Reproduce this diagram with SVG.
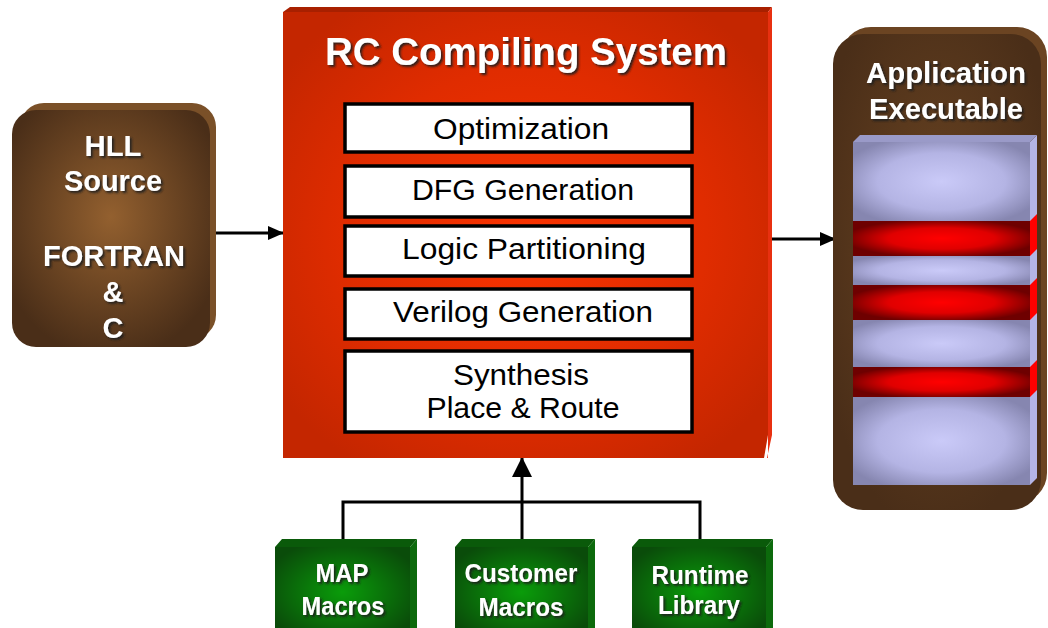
<svg xmlns="http://www.w3.org/2000/svg" width="1048" height="628" viewBox="0 0 1048 628">
<defs>
<style>
.wt{font-family:"Liberation Sans",Arial,sans-serif;font-weight:bold;fill:#ffffff;text-anchor:middle;filter:url(#sh)}
.bt{font-family:"Liberation Sans",Arial,sans-serif;fill:#000000;text-anchor:middle;font-size:29px}
.step{fill:#ffffff;stroke:#000000;stroke-width:3.5}
.conn{fill:none;stroke:#000000;stroke-width:3}
</style>
<filter id="sh" x="-10%" y="-20%" width="130%" height="150%">
<feDropShadow dx="2" dy="2" stdDeviation="0.8" flood-color="#1a1a1a" flood-opacity="0.9"/>
</filter>
<radialGradient id="brown" cx="0.5" cy="0.45" r="0.6">
<stop offset="0" stop-color="#93602f"/>
<stop offset="1" stop-color="#4a2e18"/>
</radialGradient>
<radialGradient id="brown2" cx="0.5" cy="0.45" r="0.6">
<stop offset="0" stop-color="#6a4422"/>
<stop offset="1" stop-color="#4a2e18"/>
</radialGradient>
<radialGradient id="red" cx="0.5" cy="0.5" r="0.62">
<stop offset="0" stop-color="#fa3300"/>
<stop offset="0.6" stop-color="#e02c00"/>
<stop offset="1" stop-color="#c42600"/>
</radialGradient>
<radialGradient id="lav" cx="0.5" cy="0.5" r="0.6">
<stop offset="0" stop-color="#cacaf8"/>
<stop offset="0.6" stop-color="#b4b4e4"/>
<stop offset="1" stop-color="#8686b0"/>
</radialGradient>
<radialGradient id="redband" cx="0.5" cy="0.5" r="0.55">
<stop offset="0" stop-color="#ff0000"/>
<stop offset="0.55" stop-color="#e00000"/>
<stop offset="1" stop-color="#6e0000"/>
</radialGradient>
<radialGradient id="green" cx="0.5" cy="0.5" r="0.6">
<stop offset="0" stop-color="#0a9c0a"/>
<stop offset="1" stop-color="#0a4c0a"/>
</radialGradient>
<marker id="ah" viewBox="0 0 16 14" refX="15" refY="7" markerWidth="16" markerHeight="14" markerUnits="userSpaceOnUse" orient="auto">
<path d="M0,0 L16,7 L0,14 Z" fill="#000000"/>
</marker>
<marker id="ah2" viewBox="0 0 20 20" refX="19" refY="10" markerWidth="20" markerHeight="20" markerUnits="userSpaceOnUse" orient="auto">
<path d="M0,0 L20,10 L0,20 Z" fill="#000000"/>
</marker>
</defs>
<rect width="1048" height="628" fill="#ffffff"/>

<g id="connectors">
<line class="conn" x1="210" y1="233" x2="283" y2="233" marker-end="url(#ah)"/>
<line class="conn" x1="766" y1="239" x2="835" y2="239" marker-end="url(#ah)"/>
<polyline class="conn" points="343,547 343,502 700,502 700,547"/>
<line class="conn" x1="522" y1="547" x2="522" y2="458" stroke-width="4" marker-end="url(#ah2)"/>
</g>

<g id="hll-source">
<rect x="20" y="103" width="196" height="236" rx="24" fill="#7a5028"/>
<rect x="12" y="110" width="198" height="237" rx="24" fill="url(#brown)"/>
<text class="wt" x="113" y="156" font-size="29" textLength="57" lengthAdjust="spacingAndGlyphs">HLL</text>
<text class="wt" x="113" y="191" font-size="29" textLength="98" lengthAdjust="spacingAndGlyphs">Source</text>
<text class="wt" x="114" y="266" font-size="29" textLength="142" lengthAdjust="spacingAndGlyphs">FORTRAN</text>
<text class="wt" x="113" y="302" font-size="29">&amp;</text>
<text class="wt" x="113" y="338" font-size="29">C</text>
</g>

<g id="rc-compiling-system">
<polygon points="283,12 290,7 772,7 768,12" fill="#a82000"/>
<polygon points="768,12 772,7 772,435 767,458 768,458" fill="#e83010"/>
<polygon points="283,12 768,12 768,435 764,458 283,458" fill="url(#red)"/>
<text class="wt" x="526" y="65" font-size="38" textLength="402" lengthAdjust="spacingAndGlyphs">RC Compiling System</text>
</g>

<g id="optimization">
<rect class="step" x="345" y="104" width="347" height="48"/>
<text class="bt" x="521" y="139" textLength="176" lengthAdjust="spacingAndGlyphs">Optimization</text>
</g>
<g id="dfg-generation">
<rect class="step" x="345" y="166" width="347" height="51"/>
<text class="bt" x="523" y="200" textLength="222" lengthAdjust="spacingAndGlyphs">DFG Generation</text>
</g>
<g id="logic-partitioning">
<rect class="step" x="345" y="226" width="347" height="50"/>
<text class="bt" x="524" y="259" textLength="244" lengthAdjust="spacingAndGlyphs">Logic Partitioning</text>
</g>
<g id="verilog-generation">
<rect class="step" x="345" y="289" width="347" height="50"/>
<text class="bt" x="523" y="322" textLength="260" lengthAdjust="spacingAndGlyphs">Verilog Generation</text>
</g>
<g id="synthesis">
<rect class="step" x="345" y="351" width="347" height="81"/>
<text class="bt" x="521" y="385" textLength="136" lengthAdjust="spacingAndGlyphs">Synthesis</text>
<text class="bt" x="523" y="418" textLength="193" lengthAdjust="spacingAndGlyphs">Place &amp; Route</text>
</g>

<g id="application-executable">
<rect x="841" y="27" width="206" height="476" rx="30" fill="#6b4422"/>
<rect x="833" y="34" width="208" height="476" rx="30" fill="url(#brown2)"/>
<text class="wt" x="946" y="83" font-size="29" textLength="160" lengthAdjust="spacingAndGlyphs">Application</text>
<text class="wt" x="946" y="119" font-size="29" textLength="154" lengthAdjust="spacingAndGlyphs">Executable</text>
<polygon points="1030,142 1037,135 1037,478 1030,485" fill="#b4b4e6"/>
<polygon points="853,142 860,135 1037,135 1030,142" fill="#9a9ac8"/>
<rect x="853" y="142" width="177" height="79" fill="url(#lav)"/>
<polygon points="1030,221 1037,214 1037,249 1030,256" fill="#ff0000"/>
<rect x="853" y="221" width="177" height="35" fill="url(#redband)"/>
<rect x="853" y="256" width="177" height="29" fill="url(#lav)"/>
<polygon points="1030,285 1037,278 1037,313 1030,320" fill="#ff0000"/>
<rect x="853" y="285" width="177" height="35" fill="url(#redband)"/>
<rect x="853" y="320" width="177" height="47" fill="url(#lav)"/>
<polygon points="1030,367 1037,360 1037,390 1030,397" fill="#ff0000"/>
<rect x="853" y="367" width="177" height="30" fill="url(#redband)"/>
<rect x="853" y="397" width="177" height="88" fill="url(#lav)"/>
</g>

<g id="map-macros">
<polygon points="275,547 282,539 417,539 410,547" fill="#0a5a0a"/>
<polygon points="410,547 417,539 417,628 410,628" fill="#0c6a0c"/>
<rect x="275" y="547" width="135" height="90" fill="url(#green)"/>
<text class="wt" x="342" y="582" font-size="26" textLength="53" lengthAdjust="spacingAndGlyphs">MAP</text>
<text class="wt" x="343" y="615" font-size="26" textLength="83" lengthAdjust="spacingAndGlyphs">Macros</text>
</g>
<g id="customer-macros">
<polygon points="455,547 462,539 595,539 588,547" fill="#0a5a0a"/>
<polygon points="588,547 595,539 595,628 588,628" fill="#0c6a0c"/>
<rect x="455" y="547" width="133" height="90" fill="url(#green)"/>
<text class="wt" x="521" y="582" font-size="26" textLength="113" lengthAdjust="spacingAndGlyphs">Customer</text>
<text class="wt" x="521" y="616" font-size="26" textLength="85" lengthAdjust="spacingAndGlyphs">Macros</text>
</g>
<g id="runtime-library">
<polygon points="632,547 639,539 773,539 766,547" fill="#0a5a0a"/>
<polygon points="766,547 773,539 773,628 766,628" fill="#0c6a0c"/>
<rect x="632" y="547" width="134" height="90" fill="url(#green)"/>
<text class="wt" x="700" y="584" font-size="26" textLength="97" lengthAdjust="spacingAndGlyphs">Runtime</text>
<text class="wt" x="699" y="614" font-size="26" textLength="82" lengthAdjust="spacingAndGlyphs">Library</text>
</g>
</svg>
